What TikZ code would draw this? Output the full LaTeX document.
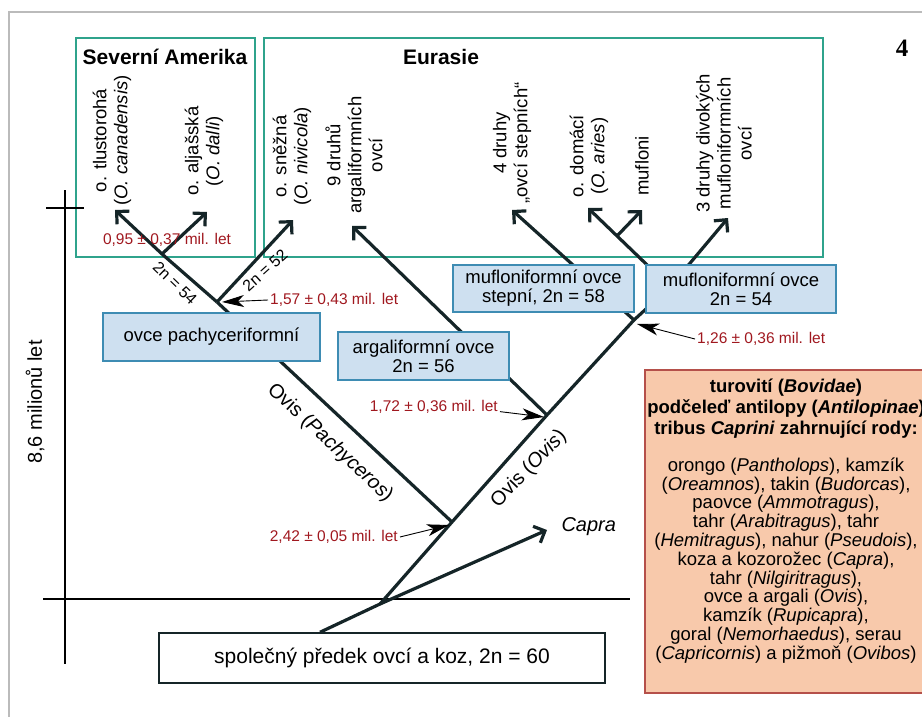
\documentclass[tikz,border=0pt]{standalone}
\usepackage{fontspec}
\setmainfont{Liberation Sans}
\newfontfamily\numserif{Liberation Serif}
\usetikzlibrary{arrows.meta}

\definecolor{regionteal}{HTML}{2FA38C}
\definecolor{boxblue}{HTML}{CEE0F0}
\definecolor{boxedge}{HTML}{3E8CB3}
\definecolor{datered}{HTML}{A0181F}
\definecolor{peach}{HTML}{F8C9AB}
\definecolor{peachedge}{HTML}{B5504A}
\definecolor{framegray}{HTML}{BBBBBB}
\definecolor{treeink}{HTML}{152528}

\newcommand{\boxfont}{\fontsize{18.5pt}{18.8pt}\selectfont}
\newcommand{\tipfont}{\fontsize{18.5pt}{21pt}\selectfont}
\newcommand{\datefont}{\fontsize{15.5pt}{17pt}\selectfont}
\newcommand{\karyofont}{\fontsize{16pt}{18pt}\selectfont}
\newcommand{\headfont}{\fontsize{21pt}{24pt}\selectfont\bfseries}
\newcommand{\stemfont}{\fontsize{20pt}{22pt}\selectfont}

\begin{document}
\begin{tikzpicture}[x=1pt,y=-1pt,
    branch/.style={line width=3.2pt,draw=treeink,line join=round},
    tipped/.style={branch,-{Straight Barb[length=9pt,width=18pt]}},
    datearrow/.style={line width=0.9pt,-{Stealth[length=22pt,width=12pt,inset=6pt]}},
    datelabel/.style={text=datered,font=\datefont,inner sep=2pt},
    cladebox/.style={draw=boxedge,line width=1.5pt,fill=boxblue,font=\boxfont,align=center,inner sep=0pt},
    leaflabel/.style={rotate=90,anchor=west,font=\tipfont,align=center,inner sep=0pt}]

  \useasboundingbox (0,0) rectangle (922,717);
  \clip (0,0) rectangle (922,717);
  \draw[framegray,line width=2pt] (9,12) rectangle (940,740);

  % regions
  \draw[regionteal,line width=1.6pt] (76,38) rectangle (255,257);
  \draw[regionteal,line width=1.6pt] (264,38) rectangle (823,257);
  \node[font=\headfont] (amerika) at (165,57) {Severní Amerika};
  \node[font=\headfont] (eurasie) at (441,57) {Eurasie};
  \node[font=\numserif\bfseries\fontsize{25pt}{27pt}\selectfont] (panel) at (902,48) {4};

  % time axis
  \draw[line width=1.3pt] (65,190) -- (65,664);
  \draw[line width=1.3pt] (46,208) -- (84,208);
  \draw[line width=1.3pt] (43,599) -- (630,599);
  \node[rotate=90,font=\stemfont] (scale) at (35,402) {8,6 milionů let};

  \node[draw=treeink,line width=1.5pt,fill=white,font=\fontsize{21pt}{23pt}\selectfont,minimum width=446pt,minimum height=50pt] (predek) at (382,658) {společný předek ovcí a koz, 2n = 60};

  % branch points and tips
  \coordinate (root) at ([xshift=-62pt]predek.north);
  \coordinate (split) at (380,604);
  \coordinate (capratip) at (547,530);
  \coordinate (n242) at (452,522);
  \coordinate (n172) at (547,415);
  \coordinate (n126) at (634,320);
  \coordinate (mufnode) at (670,287);
  \coordinate (muffork) at (617,236);
  \coordinate (n157) at (217,302);
  \coordinate (n095) at (162,254);
  \coordinate (tlustotip) at (115,210);
  \coordinate (dallitip) at (207,212);
  \coordinate (nivitip) at (293,220);
  \coordinate (argalitip) at (352,226);
  \coordinate (stepnitip) at (512,210);
  \coordinate (ariestip) at (588,208);
  \coordinate (muflonitip) at (642,210);
  \coordinate (divokytip) at (728,218);

  % tree
  \draw[branch] (root) -- (split) -- (n242) -- (n172) -- (n126) -- (mufnode);
  \draw[tipped] (split) -- (capratip);
  \draw[branch] (n242) -- (n157);
  \draw[tipped] (n157) -- (n095) -- (tlustotip);
  \draw[tipped] (n095) -- (dallitip);
  \draw[tipped] (n157) -- (nivitip);
  \draw[tipped] (n172) -- (argalitip);
  \draw[tipped] (n126) -- (stepnitip);
  \draw[tipped] (mufnode) -- (ariestip);
  \draw[tipped] (muffork) -- (muflonitip);
  \draw[tipped] (mufnode) -- (divokytip);

  % clade boxes
  \node[cladebox,minimum width=217pt,minimum height=48pt] (pachy) at (211.5,337) {ovce pachyceriformní};
  \node[cladebox,minimum width=171pt,minimum height=48pt] (argali) at (423.5,356) {argaliformní ovce\\2n = 56};
  \node[cladebox,minimum width=181pt,minimum height=47pt] (stepni) at (543.5,288.5) {mufloniformní ovce\\stepní, 2n = 58};
  \node[cladebox,minimum width=190pt,minimum height=48pt] (muflon) at (741,289) {mufloniformní ovce\\2n = 54};

  % leaves
  \node[leaflabel] (tlusto) at (112,206) {o. tlustorohá\\(\textit{O. canadensis})};
  \node[leaflabel] (dalli) at (204,196) {o. aljašská\\(\textit{O. dalli})};
  \node[leaflabel] (nivi) at (292,206) {o. sněžná\\(\textit{O. nivicola})};
  \node[leaflabel] (argalidr) at (354,214) {9 druhů\\argaliformních\\ovcí};
  \node[leaflabel] (stepdr) at (512,204) {4 druhy\\„ovcí stepních“};
  \node[leaflabel] (aries) at (589,198) {o. domácí\\(\textit{O. aries})};
  \node[leaflabel] (mufloni) at (642,196) {mufloni};
  \node[leaflabel] (divoky) at (724,213) {3 druhy divokých\\mufloniformních\\ovcí};

  % stems
  \node[font=\stemfont,rotate=-43] (pachyst) at (330,443) {Ovis (\textit{Pachyceros})};
  \node[font=\stemfont,rotate=46] (ovisst) at (529,469) {Ovis (\textit{Ovis})};
  \node[font=\stemfont\itshape,anchor=west] (capra) at (558,527) {Capra};
  \node[font=\karyofont,rotate=-44] (k54) at (175,283) {2n = 54};
  \node[font=\karyofont,rotate=42] (k52) at (265,270) {2n = 52};

  % dates
  \coordinate (t157) at (222,302);
  \coordinate (t126) at (637,324);
  \coordinate (t172) at (544,417);
  \coordinate (t242) at (449,525);
  \node[datelabel] (d095) at (167,240) {0,95 ± 0,37 mil. let};
  \node[datelabel,anchor=west] (d157) at (268,300) {1,57 ± 0,43 mil. let};
  \node[datelabel,anchor=west] (d126) at (695,339) {1,26 ± 0,36 mil. let};
  \node[datelabel,anchor=east] (d172) at (500,407) {1,72 ± 0,36 mil. let};
  \node[datelabel,anchor=east] (d242) at (400,537) {2,42 ± 0,05 mil. let};
  \draw[datearrow] (d157.west) -- (t157);
  \draw[datearrow] (d126.west) -- (t126);
  \draw[datearrow] (d172.base east) -- (t172);
  \draw[datearrow] (d242.east) -- (t242);

  % Caprini
  \node[draw=peachedge,line width=2pt,fill=peach,minimum width=282pt,minimum height=323pt] (caprini) at (786,531.5) {};
  \node[font=\fontsize{18.5pt}{21pt}\selectfont\bfseries,align=center] (bovidae) at (786,409) {turovití (\textit{Bovidae})\\podčeleď antilopy (\textit{Antilopinae})\\tribus \textit{Caprini} zahrnující rody:};
  \node[font=\boxfont,align=center] (rody) at (786,560.5) {orongo (\textit{Pantholops}), kamzík\\(\textit{Oreamnos}), takin (\textit{Budorcas}),\\paovce (\textit{Ammotragus}),\\tahr (\textit{Arabitragus}), tahr\\(\textit{Hemitragus}), nahur (\textit{Pseudois}),\\koza a kozorožec (\textit{Capra}),\\tahr (\textit{Nilgiritragus}),\\ovce a argali (\textit{Ovis}),\\kamzík (\textit{Rupicapra}),\\goral (\textit{Nemorhaedus}), serau\\(\textit{Capricornis}) a pižmoň (\textit{Ovibos})};

\end{tikzpicture}
\end{document}
